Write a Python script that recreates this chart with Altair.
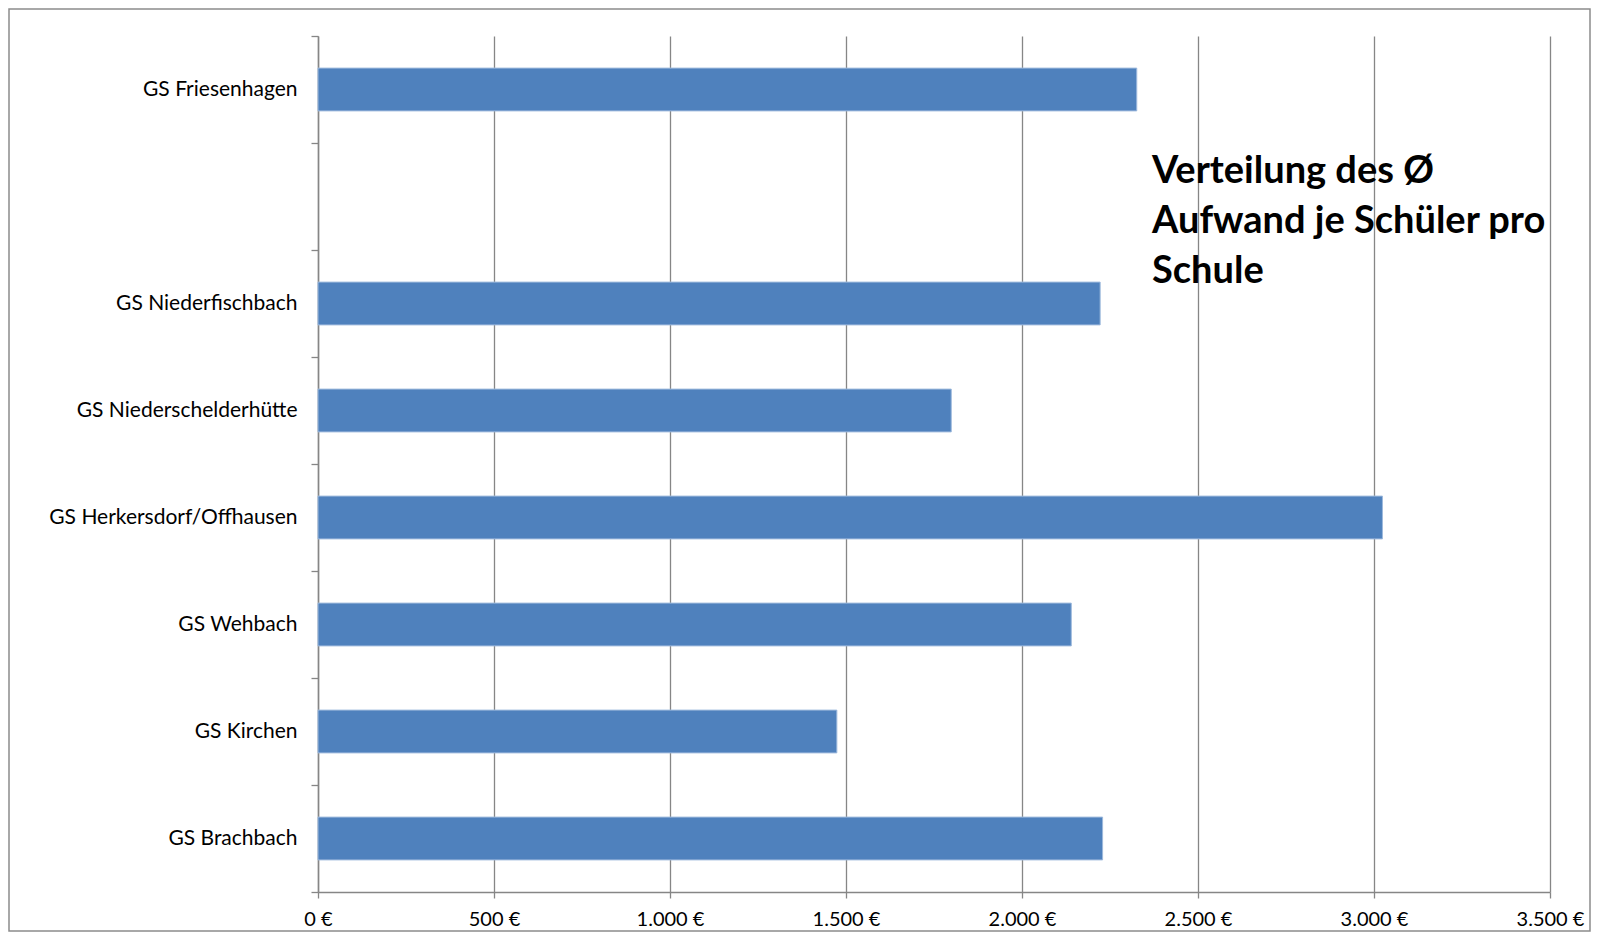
import altair as alt
import pandas as pd

# Data
schools = [
    "GS Friesenhagen",
    "GS Niederfischbach",
    "GS Niederschelderhütte",
    "GS Herkersdorf/Offhausen",
    "GS Wehbach",
    "GS Kirchen",
    "GS Brachbach",
]
values = [2326, 2222, 1799, 3024, 2140, 1474, 2229]
# category order top to bottom, including one empty slot
category_order = [
    "GS Friesenhagen",
    " ",
    "GS Niederfischbach",
    "GS Niederschelderhütte",
    "GS Herkersdorf/Offhausen",
    "GS Wehbach",
    "GS Kirchen",
    "GS Brachbach",
]
title_lines = ["Verteilung des Ø", "Aufwand je Schüler pro", "Schule"]
x_ticks = [0, 500, 1000, 1500, 2000, 2500, 3000, 3500]

df = pd.DataFrame({"Schule": schools, "Aufwand": values})

GRAY = "#868686"
FONT = "Lato"

W, H = 1232, 856

bars = alt.Chart(df).mark_bar(
    color="#4F81BD", stroke="#9DB9DC", strokeWidth=1, height={"band": 0.4}
).encode(
    x=alt.X(
        "Aufwand:Q",
        scale=alt.Scale(domain=[0, 3500], nice=False),
        axis=alt.Axis(
            values=x_ticks,
            title=None,
            grid=True,
            gridColor=GRAY,
            gridWidth=1.3,
            domainColor=GRAY,
            domainWidth=1.5,
            tickColor=GRAY,
            tickWidth=1.3,
            tickSize=6,
            labelPadding=11,
            labelFlush=False,
            labelFont=FONT,
            labelFontSize=20,
            labelColor="#000000",
            labelExpr="replace(format(datum.value, ','), ',', '.') + ' €'",
        ),
    ),
    y=alt.Y(
        "Schule:N",
        sort=category_order,
        scale=alt.Scale(domain=category_order, paddingInner=0, paddingOuter=0),
        axis=alt.Axis(
            title=None,
            tickBand="extent",
            tickSize=7,
            tickColor=GRAY,
            tickWidth=1.3,
            domainColor=GRAY,
            domainWidth=1.5,
            labelPadding=14,
            labelLimit=400,
            labelFont=FONT,
            labelFontSize=21,
            labelColor="#000000",
            grid=False,
        ),
    ),
)

title = alt.Chart(pd.DataFrame({"a": [0]})).mark_text(
    align="left",
    baseline="alphabetic",
    font=FONT,
    fontSize=38,
    fontWeight="bold",
    lineHeight=50,
    color="#000000",
).encode(
    x=alt.value(834),
    y=alt.value(147),
    text=alt.value(title_lines),
)

border = alt.Chart(pd.DataFrame({"a": [0]})).mark_rect(
    filled=False, stroke="#8c8c8c", strokeWidth=1.5
).encode(
    x=alt.value(-309),
    x2=alt.value(W + 40),
    y=alt.value(-27),
    y2=alt.value(H + 39),
)

chart = alt.layer(border, bars, title).properties(
    width=W,
    height=H,
    padding={"left": 310, "top": 28, "right": 42, "bottom": 40},
    autosize=alt.AutoSizeParams(type="none"),
    background="white",
).configure_view(strokeWidth=0)

chart.save("out.html", embed_options={"renderer": "svg", "actions": False})
